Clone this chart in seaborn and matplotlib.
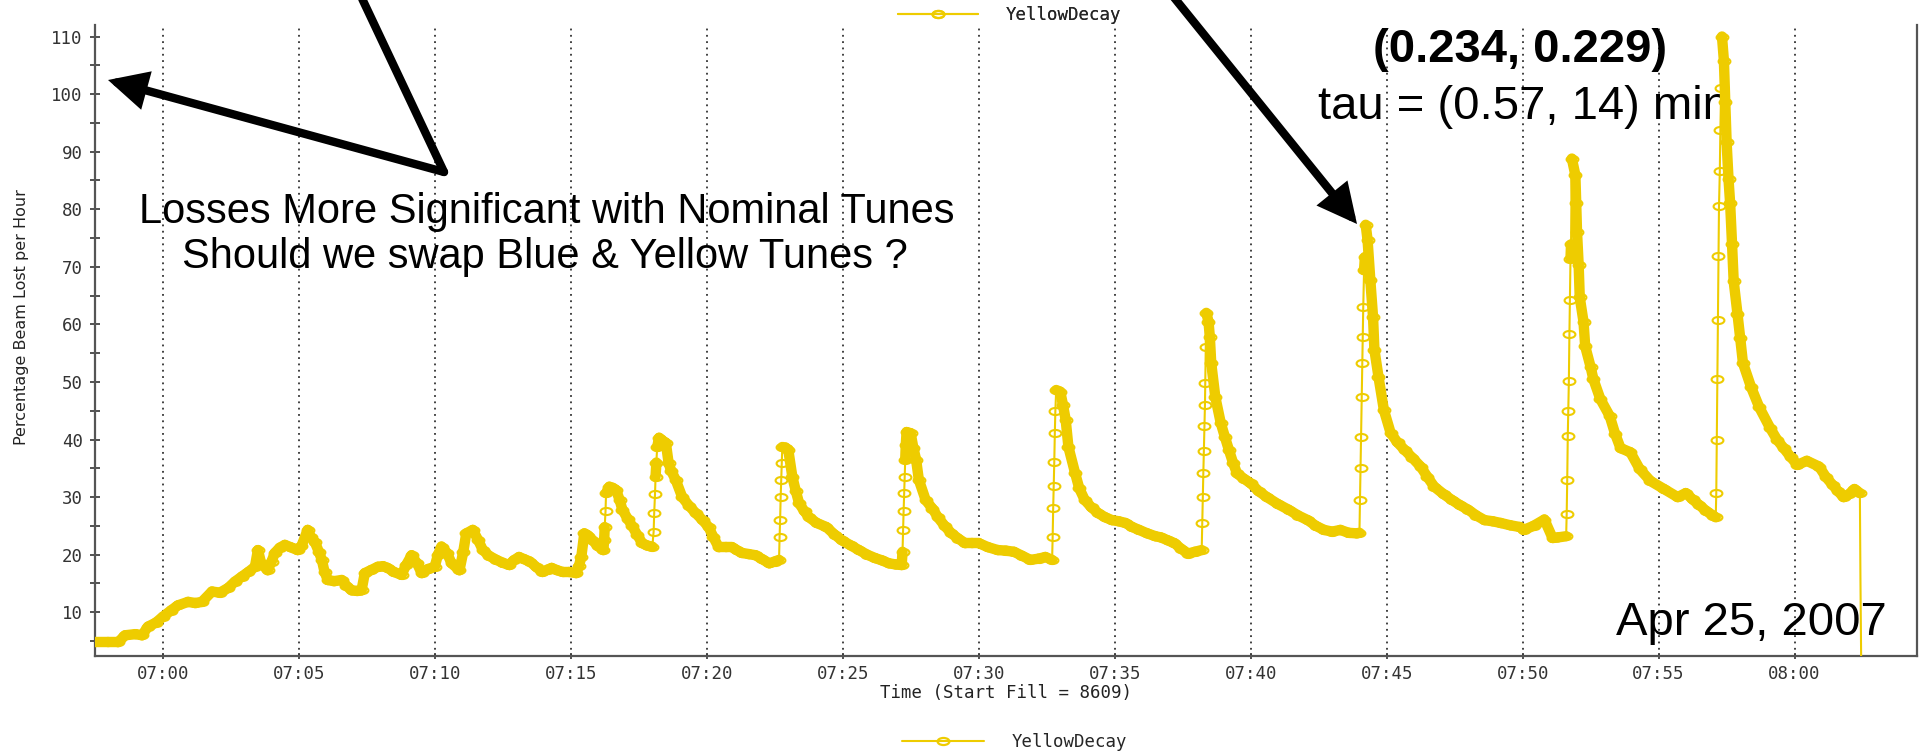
import numpy as np
import pandas as pd
import matplotlib
matplotlib.use('Agg')
import matplotlib.pyplot as plt
import matplotlib.dates as mdates
from matplotlib.ticker import MultipleLocator
from matplotlib.path import Path
from matplotlib.transforms import Affine2D
from matplotlib.lines import Line2D
from matplotlib.collections import LineCollection
import seaborn as sns

# Yellow ring decay, fill 8609 (Apr 25, 2007)
# minutes after 07:00
minutes = [
    -2.48, -2.0, -1.64, -1.38, -1.0, -0.76, -0.54, -0.25, 0.0, 0.3, 0.56, 0.93, 1.2, 1.44, 1.81, 2.1,
    2.4, 2.65, 2.91, 3.15, 3.39, 3.5, 3.62, 3.86, 4.0, 4.12, 4.3, 4.49, 4.7, 4.96, 5.1, 5.33,
    5.45, 5.59, 5.75, 5.85, 5.95, 6.07, 6.3, 6.58, 6.75, 6.95, 7.15, 7.31, 7.43, 7.65, 7.91, 8.1,
    8.27, 8.5, 8.78, 8.95, 9.15, 9.35, 9.52, 9.75, 10.0, 10.12, 10.25, 10.45, 10.62, 10.91, 11.05, 11.16,
    11.4, 11.6, 11.77, 12.0, 12.27, 12.5, 12.75, 12.9, 13.1, 13.3, 13.5, 13.75, 13.96, 14.15, 14.3, 14.5,
    14.7, 14.95, 15.2, 15.3, 15.39, 15.5, 15.65, 15.8, 16.0, 16.2, 16.23, 16.25, 16.28, 16.3, 16.42, 16.55,
    16.67, 16.8, 16.9, 17.1, 17.27, 17.45, 17.63, 17.8, 18.0, 18.05, 18.07, 18.1, 18.12, 18.15, 18.18, 18.25,
    18.38, 18.5, 18.6, 18.7, 18.86, 19.1, 19.35, 19.6, 19.85, 20.07, 20.25, 20.44, 20.7, 20.93, 21.1, 21.3,
    21.55, 21.8, 22.05, 22.3, 22.5, 22.66, 22.68, 22.7, 22.72, 22.74, 22.76, 22.78, 22.9, 23.0, 23.15, 23.28,
    23.4, 23.6, 23.76, 24.05, 24.4, 24.7, 24.97, 25.3, 25.6, 25.9, 26.2, 26.45, 26.7, 26.95, 27.17, 27.2,
    27.22, 27.24, 27.26, 27.28, 27.3, 27.32, 27.35, 27.5, 27.6, 27.7, 27.8, 28.05, 28.3, 28.5, 28.75, 29.0,
    29.25, 29.5, 29.75, 30.0, 30.35, 30.7, 31.0, 31.3, 31.6, 31.9, 32.2, 32.45, 32.7, 32.72, 32.74, 32.76,
    32.78, 32.8, 32.82, 32.85, 33.0, 33.1, 33.2, 33.3, 33.55, 33.7, 33.9, 34.15, 34.4, 34.65, 34.9, 35.15,
    35.4, 35.65, 35.9, 36.2, 36.5, 36.7, 36.95, 37.2, 37.45, 37.7, 37.95, 38.2, 38.22, 38.24, 38.26, 38.28,
    38.3, 38.32, 38.33, 38.35, 38.37, 38.45, 38.5, 38.55, 38.7, 38.9, 39.05, 39.2, 39.35, 39.5, 39.75, 40.0,
    40.3, 40.6, 41.0, 41.4, 41.75, 42.1, 42.4, 42.7, 43.0, 43.3, 43.6, 43.9, 44.0, 44.02, 44.04, 44.06,
    44.08, 44.1, 44.12, 44.14, 44.17, 44.2, 44.23, 44.3, 44.4, 44.5, 44.55, 44.7, 44.9, 45.15, 45.4, 45.66,
    45.95, 46.25, 46.5, 46.75, 47.1, 47.4, 47.7, 48.0, 48.3, 48.6, 48.9, 49.2, 49.55, 49.9, 50.04, 50.4,
    50.8, 51.1, 51.3, 51.6, 51.62, 51.64, 51.66, 51.68, 51.7, 51.72, 51.74, 51.76, 51.78, 51.81, 51.94, 51.97,
    52.0, 52.06, 52.1, 52.24, 52.3, 52.5, 52.6, 52.86, 53.2, 53.4, 53.6, 53.96, 54.3, 54.7, 55.2, 55.7,
    56.0, 56.25, 56.5, 56.75, 57.0, 57.1, 57.12, 57.14, 57.16, 57.18, 57.2, 57.22, 57.25, 57.27, 57.3, 57.33,
    57.4, 57.45, 57.5, 57.57, 57.63, 57.7, 57.76, 57.9, 58.0, 58.1, 58.4, 58.7, 59.1, 59.35, 59.6, 59.85,
    60.1, 60.45, 60.9, 61.15, 61.4, 61.6, 61.8, 62.0, 62.2, 62.4,
]
# percentage beam lost per hour
decay = [
    4.8, 4.8, 4.8, 6.0, 6.2, 6.0, 7.5, 8.2, 9.2, 10.3, 11.2, 11.8, 11.6, 11.8, 13.6, 13.4,
    14.2, 15.3, 16.2, 17.0, 17.9, 20.8, 18.5, 17.3, 18.8, 20.3, 21.2, 21.7, 21.3, 20.8, 21.5, 24.3,
    23.0, 22.2, 20.4, 19.1, 17.0, 15.6, 15.4, 15.6, 14.6, 13.8, 13.7, 13.8, 16.8, 17.3, 17.9, 18.0,
    17.7, 17.0, 16.5, 18.2, 19.9, 18.5, 16.8, 17.5, 17.9, 20.0, 21.4, 20.3, 18.5, 17.3, 20.5, 23.7,
    24.3, 22.5, 20.8, 19.8, 19.1, 18.6, 18.2, 19.0, 19.6, 19.2, 18.8, 17.8, 17.0, 17.4, 17.7, 17.3,
    17.0, 17.0, 16.8, 18.0, 19.6, 23.7, 23.3, 22.5, 21.5, 20.8, 22.5, 24.8, 27.5, 30.7, 31.8, 31.6,
    31.2, 29.5, 27.8, 26.2, 24.9, 23.4, 22.0, 21.6, 21.4, 24.0, 27.2, 30.5, 33.5, 36.0, 38.7, 40.3,
    39.8, 39.4, 35.9, 34.5, 33.0, 30.0, 28.5, 27.2, 26.0, 24.8, 23.0, 21.3, 21.3, 21.3, 20.8, 20.3,
    20.1, 19.9, 19.2, 18.5, 18.8, 19.1, 23.0, 26.0, 30.0, 33.0, 35.9, 38.7, 38.6, 38.2, 33.5, 31.0,
    28.9, 27.5, 26.5, 25.5, 24.8, 23.5, 22.5, 21.6, 20.8, 20.0, 19.4, 19.0, 18.5, 18.3, 18.2, 20.5,
    24.3, 27.5, 30.7, 33.5, 36.5, 39.0, 41.3, 41.1, 38.5, 36.5, 33.0, 29.5, 28.0, 26.5, 25.0, 23.7,
    22.8, 22.0, 22.0, 22.0, 21.3, 20.8, 20.7, 20.5, 19.8, 19.1, 19.3, 19.6, 19.1, 23.0, 28.1, 32.0,
    36.1, 41.1, 45.0, 48.6, 48.3, 46.0, 43.4, 38.7, 34.1, 31.5, 29.5, 28.2, 27.2, 26.5, 26.0, 25.8,
    25.5, 24.8, 24.3, 23.7, 23.2, 23.0, 22.5, 22.0, 21.0, 20.2, 20.5, 20.8, 25.5, 30.0, 34.1, 38.0,
    42.3, 46.0, 49.8, 56.1, 62.0, 60.5, 57.8, 53.3, 47.4, 42.9, 40.5, 38.2, 36.0, 34.1, 33.2, 32.4,
    31.0, 30.0, 28.8, 27.8, 26.8, 26.0, 25.0, 24.3, 24.0, 24.3, 23.8, 23.7, 23.8, 29.5, 35.0, 40.4,
    47.4, 53.3, 57.8, 63.0, 69.4, 71.7, 77.3, 74.6, 67.7, 61.3, 55.6, 50.9, 45.1, 41.1, 39.5, 38.2,
    36.8, 35.3, 33.5, 31.8, 30.5, 29.5, 28.6, 27.8, 26.8, 26.0, 25.8, 25.5, 25.1, 24.8, 24.3, 25.0,
    26.1, 22.9, 23.0, 23.2, 27.1, 33.0, 40.6, 45.0, 50.2, 58.3, 64.3, 71.4, 73.9, 88.8, 85.9, 81.0,
    76.0, 70.3, 64.7, 60.4, 56.2, 52.6, 50.5, 47.0, 44.1, 41.0, 38.5, 37.8, 34.9, 32.8, 31.4, 30.0,
    30.7, 29.6, 28.6, 27.6, 26.8, 26.5, 30.7, 40.0, 50.5, 60.8, 71.8, 80.6, 86.6, 93.7, 101.0, 110.0,
    105.8, 98.7, 91.6, 85.2, 81.0, 73.9, 67.5, 61.8, 57.6, 53.3, 49.1, 45.6, 42.0, 40.0, 38.5, 37.0,
    35.6, 36.3, 35.3, 33.5, 32.1, 31.0, 30.0, 30.5, 31.4, 30.7,
]
# end of fill: signal drops off the scale
tail_minutes = [62.4, 62.42, 62.46]
tail_decay = [30.7, 16.0, -5.0]

yellow = '#EECC00'
fill_start = pd.Timestamp('2007-04-25 07:00')
df = pd.DataFrame({'Time': fill_start + pd.to_timedelta(minutes, unit='min'), 'YellowDecay': decay})
tail = pd.DataFrame({'Time': fill_start + pd.to_timedelta(tail_minutes, unit='min'), 'YellowDecay': tail_decay})

sns.set_style('white')
plt.rcParams['font.family'] = ['DejaVu Sans Mono', 'DejaVu Sans']

W, H = 1922, 751
fig = plt.figure(figsize=(W / 100, H / 100), dpi=100)
ax = fig.add_axes([95 / W, 1 - 656 / H, (1917 - 95) / W, (656 - 25) / H])

# elliptical hollow marker like the logger's plot
ellipse = Path.unit_circle().transformed(Affine2D().scale(1.0, 0.6))

sns.lineplot(data=df, x='Time', y='YellowDecay', ax=ax, color=yellow, lw=1.5, sort=False, estimator=None,
             marker=ellipse, markersize=8.5, markerfacecolor='none', markeredgecolor=yellow,
             markeredgewidth=1.5, label='YellowDecay', zorder=3, legend=False)
ax.plot(tail['Time'], tail['YellowDecay'], color=yellow, lw=1.5, zorder=3)

# the dense samples make a solid band along the decays (the fast injection steps stay thin)
tnum = mdates.date2num(df['Time'])
vals = df['YellowDecay'].to_numpy()
segs = np.stack([np.column_stack([tnum[:-1], vals[:-1]]), np.column_stack([tnum[1:], vals[1:]])], axis=1)
rising = (np.diff(vals) > 2.5) & (np.diff(np.asarray(minutes)) < 0.06)
band = LineCollection(segs[~rising], colors=yellow, linewidths=7.5, capstyle='round', joinstyle='round',
                      zorder=2.9)
ax.add_collection(band)

# axes
ax.set_xlim(fill_start + pd.Timedelta(minutes=-2.49), fill_start + pd.Timedelta(minutes=64.5))
ax.set_ylim(2.4, 112)
ax.xaxis.set_major_locator(mdates.MinuteLocator(byminute=range(0, 60, 5)))
ax.xaxis.set_major_formatter(mdates.DateFormatter('%H:%M'))
ax.yaxis.set_major_locator(MultipleLocator(10))
ax.yaxis.set_minor_locator(MultipleLocator(5))
ax.set_yticks(range(10, 111, 10))

ax.tick_params(axis='y', which='both', direction='inout', length=7.5, width=1.2, color='#333333',
               labelsize=12.5, labelcolor='#333333', pad=5, left=True)
ax.tick_params(axis='x', which='major', direction='inout', length=4.5, width=1.2, color='#333333',
               labelsize=12.5, labelcolor='#333333', pad=4, bottom=True)

ax.grid(axis='x', color='#333333', linestyle=(0, (1, 2.5)), lw=1.3)
ax.grid(axis='y', visible=False)
ax.set_axisbelow(True)

ax.spines['top'].set_visible(False)
for side in ['left', 'bottom', 'right']:
    ax.spines[side].set_color('#555555')
    ax.spines[side].set_linewidth(1.6)

ax.set_xlabel('Time (Start Fill = 8609)', fontsize=12.5, color='#222222', labelpad=1)
ax.set_ylabel('')
fig.text(22 / W, 1 - 317 / H, 'Percentage Beam Lost per Hour', rotation=90, ha='center', va='center',
         fontsize=11.5, family='DejaVu Sans', color='#222222')

# legends, top and bottom
handle = Line2D([], [], color=yellow, lw=1.5, marker=ellipse, markersize=8.5, markerfacecolor='none',
                markeredgecolor=yellow, markeredgewidth=1.6)
leg_top = fig.legend([handle], ['YellowDecay'], loc='center left', bbox_to_anchor=(898 / W, 1 - 15 / H),
                     frameon=False, borderpad=0, borderaxespad=0, handlelength=4.6, handletextpad=1.6,
                     prop={'family': 'DejaVu Sans Mono', 'size': 12.5})
fig.legend([handle], ['YellowDecay'], loc='center left', bbox_to_anchor=(902 / W, 1 - 742 / H),
           frameon=False, borderpad=0, borderaxespad=0, handlelength=4.7, handletextpad=1.6,
           prop={'family': 'DejaVu Sans Mono', 'size': 12.5})
fig.add_artist(leg_top)

# slide annotations (drawn under the data)
def ftext(x, y, s, **kw):
    ax.text(x / W, 1 - y / H, s, transform=fig.transFigure, family='Liberation Sans', color='black',
            zorder=1, clip_on=False, **kw)

ftext(547, 223, 'Losses More Significant with Nominal Tunes', fontsize=30, ha='center', va='baseline')
ftext(545, 268, 'Should we swap Blue & Yellow Tunes ?', fontsize=30, ha='center', va='baseline')
ftext(1520, 62, '(0.234, 0.229)', fontsize=34, weight='bold', ha='center', va='baseline')
ftext(1523, 119, 'tau = (0.57, 14) min', fontsize=34, ha='center', va='baseline')
ftext(1751, 635, 'Apr 25, 2007', fontsize=34, ha='center', va='baseline')

# arrows
arrow_kw = dict(arrowstyle='-|>,head_length=1.9,head_width=0.95', color='black', lw=6,
                mutation_scale=10, shrinkA=0, shrinkB=0, capstyle='round', joinstyle='miter')
fig.add_artist(Line2D([358 / W, 444 / W], [1 + 10 / H, 1 - 172 / H], transform=fig.transFigure,
                      color='black', lw=6, solid_capstyle='round', zorder=5))
ax.annotate('', xy=(108, H - 80), xytext=(444, H - 172), xycoords='figure pixels',
            textcoords='figure pixels', arrowprops=arrow_kw, annotation_clip=False, zorder=5)
ax.annotate('', xy=(1357, H - 224), xytext=(1168, H + 10), xycoords='figure pixels',
            textcoords='figure pixels', arrowprops=arrow_kw, annotation_clip=False, zorder=5)

fig.savefig('out.png', dpi=100)
